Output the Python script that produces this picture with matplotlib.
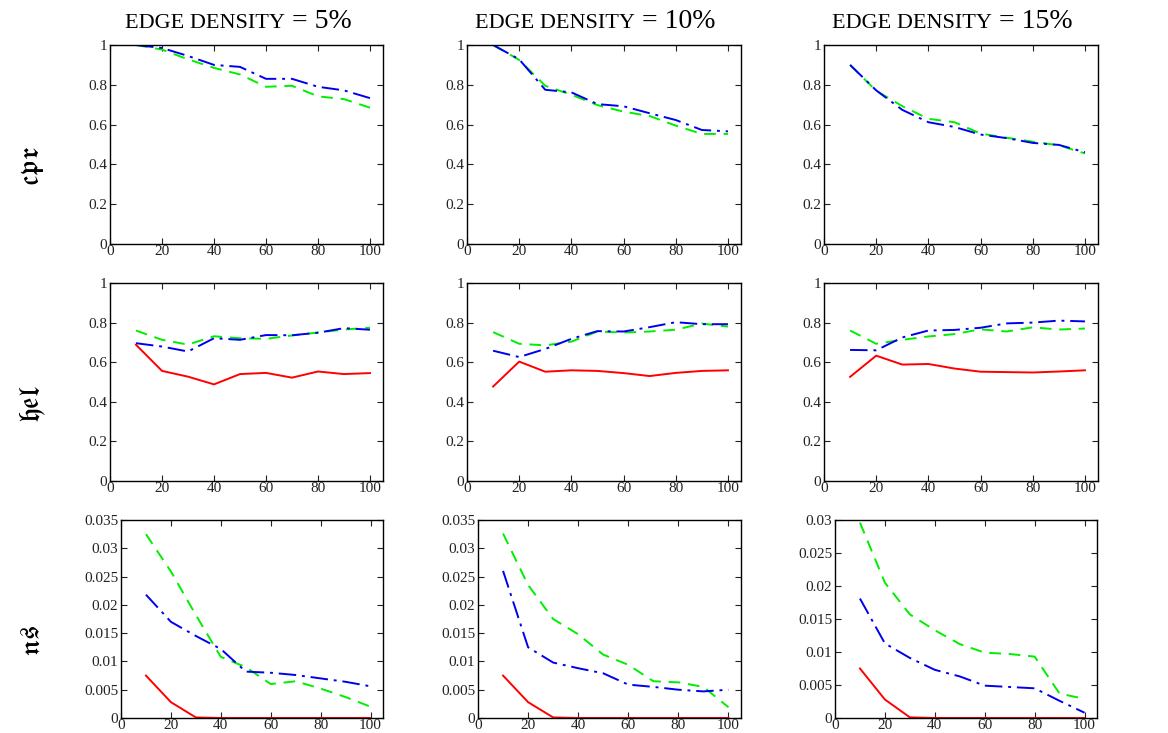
import matplotlib
matplotlib.use("Agg")
import matplotlib.pyplot as plt

plt.rcParams['font.family'] = ['Liberation Serif', 'DejaVu Serif']
plt.rcParams['mathtext.fontset'] = 'stix'

x = [10, 20, 30, 40, 50, 60, 70, 80, 90, 100]
title_words = ["EDGE DENSITY", "EDGE DENSITY", "EDGE DENSITY"]
title_values = [" = 5%", " = 10%", " = 15%"]
row_labels = [r"$\mathfrak{cpr}$", r"$\mathfrak{hel}$", r"$\mathfrak{ns}$"]
x_ticks = [0, 20, 40, 60, 80, 100]

# cpr row (no red series)
cpr_blue_5 = [1.0, 0.985, 0.945, 0.90, 0.89, 0.83, 0.83, 0.79, 0.772, 0.733]
cpr_green_5 = [1.0, 0.977, 0.928, 0.885, 0.852, 0.79, 0.795, 0.742, 0.728, 0.685]
cpr_blue_10 = [1.0, 0.928, 0.775, 0.762, 0.703, 0.692, 0.657, 0.623, 0.573, 0.566]
cpr_green_10 = [1.0, 0.925, 0.795, 0.75, 0.698, 0.665, 0.643, 0.595, 0.553, 0.553]
cpr_blue_15 = [0.90, 0.772, 0.674, 0.612, 0.588, 0.55, 0.532, 0.508, 0.498, 0.461]
cpr_green_15 = [0.90, 0.77, 0.693, 0.629, 0.612, 0.555, 0.534, 0.514, 0.496, 0.455]

# hel row
hel_red_5 = [0.688, 0.556, 0.527, 0.488, 0.54, 0.546, 0.522, 0.553, 0.54, 0.545]
hel_blue_5 = [0.696, 0.679, 0.654, 0.721, 0.713, 0.737, 0.736, 0.749, 0.772, 0.764]
hel_green_5 = [0.76, 0.713, 0.689, 0.731, 0.721, 0.718, 0.735, 0.75, 0.765, 0.774]
hel_red_10 = [0.477, 0.603, 0.552, 0.559, 0.556, 0.545, 0.53, 0.546, 0.556, 0.559]
hel_blue_10 = [0.658, 0.626, 0.667, 0.718, 0.757, 0.755, 0.777, 0.802, 0.792, 0.792]
hel_green_10 = [0.752, 0.693, 0.685, 0.704, 0.755, 0.75, 0.755, 0.764, 0.795, 0.78]
hel_red_15 = [0.526, 0.633, 0.588, 0.591, 0.568, 0.552, 0.55, 0.548, 0.553, 0.559]
hel_blue_15 = [0.662, 0.66, 0.725, 0.76, 0.763, 0.774, 0.796, 0.8, 0.81, 0.806]
hel_green_15 = [0.76, 0.693, 0.713, 0.73, 0.742, 0.766, 0.755, 0.776, 0.765, 0.77]

# ns row
ns_red_5 = [0.0075, 0.0028, 0.0001, 0.0, 0.0, 0.0, 0.0, 0.0, 0.0, 0.0]
ns_blue_5 = [0.0218, 0.0170, 0.0145, 0.0122, 0.0082, 0.0080, 0.0076, 0.0070, 0.0064, 0.0056]
ns_green_5 = [0.0325, 0.0259, 0.0182, 0.0108, 0.0090, 0.0060, 0.0065, 0.0052, 0.0037, 0.0020]
ns_red_10 = [0.0075, 0.0028, 0.0001, 0.0, 0.0, 0.0, 0.0, 0.0, 0.0, 0.0]
ns_blue_10 = [0.0260, 0.0125, 0.0098, 0.0088, 0.0079, 0.0059, 0.0055, 0.0050, 0.0047, 0.0050]
ns_green_10 = [0.0326, 0.0235, 0.0175, 0.0148, 0.0112, 0.0094, 0.0065, 0.0063, 0.0055, 0.0019]
ns_red_15 = [0.0075, 0.0028, 0.0001, 0.0, 0.0, 0.0, 0.0, 0.0, 0.0, 0.0]
ns_blue_15 = [0.0181, 0.0113, 0.0091, 0.0073, 0.0063, 0.0049, 0.0047, 0.0045, 0.0026, 0.0008]
ns_green_15 = [0.0296, 0.0205, 0.0157, 0.0133, 0.0112, 0.0099, 0.0097, 0.0093, 0.0037, 0.0029]

grid = [
    [(None, cpr_blue_5, cpr_green_5), (None, cpr_blue_10, cpr_green_10), (None, cpr_blue_15, cpr_green_15)],
    [(hel_red_5, hel_blue_5, hel_green_5), (hel_red_10, hel_blue_10, hel_green_10), (hel_red_15, hel_blue_15, hel_green_15)],
    [(ns_red_5, ns_blue_5, ns_green_5), (ns_red_10, ns_blue_10, ns_green_10), (ns_red_15, ns_blue_15, ns_green_15)],
]

y_limits = [[(0, 1)] * 3, [(0, 1)] * 3, [(0, 0.035), (0, 0.035), (0, 0.03)]]
y_ticks = [
    [[0, 0.2, 0.4, 0.6, 0.8, 1]] * 3,
    [[0, 0.2, 0.4, 0.6, 0.8, 1]] * 3,
    [[0, 0.005, 0.01, 0.015, 0.02, 0.025, 0.03, 0.035]] * 2 + [[0, 0.005, 0.01, 0.015, 0.02, 0.025, 0.03]],
]

W, H = 1168, 733
fig = plt.figure(figsize=(W / 100, H / 100), dpi=100)

# pixel boxes (left, top, right, bottom)
boxes = [
    [(110, 45, 383, 244), (467, 45, 741, 244), (824, 45, 1098, 244)],
    [(110, 283, 383, 481), (467, 283, 741, 481), (824, 283, 1098, 481)],
    [(121, 520, 383, 718), (478, 520, 741, 718), (835, 520, 1097, 718)],
]
title_centers = [238, 595, 952]

def fmt(v):
    if v == 0:
        return "0"
    return ("%.3f" % v).rstrip("0").rstrip(".")

for r in range(3):
    for c in range(3):
        l, t, rr, b = boxes[r][c]
        ax = fig.add_axes([l / W, 1 - b / H, (rr - l) / W, (b - t) / H])
        red, blue, green = grid[r][c]
        if red is not None:
            ax.plot(x, red, color='#ff0000', lw=1.4, ls='-')
        ax.plot(x, green, color='#00ee00', lw=1.4, ls=(0, (6, 4)))
        ax.plot(x, blue, color='#0000ee', lw=1.4, ls=(0, (9, 3, 1.5, 3)))
        ax.set_xlim(0, 105)
        ax.set_ylim(*y_limits[r][c])
        ax.set_xticks(x_ticks)
        ax.set_yticks(y_ticks[r][c])
        ax.set_yticklabels([fmt(v) for v in y_ticks[r][c]])
        ax.tick_params(direction='in', length=4, width=0.8, top=True, right=True,
                       labelsize=11, colors='#222222')
        ax.tick_params(axis='x', pad=1)
        ax.tick_params(axis='y', pad=2)
        for sp in ax.spines.values():
            sp.set_linewidth(1.0)
        if c == 0:
            fig.text(33 / W, 1 - ((t + b) / 2 + 22) / H, row_labels[r], rotation=90,
                     fontsize=20, ha='center', va='center')

# titles: small-caps style word + larger value, centred as a unit
fig.canvas.draw()
renderer = fig.canvas.get_renderer()
for c in range(3):
    t1 = fig.text(0, 1 - 28 / H, title_words[c], fontsize=16, va='baseline', ha='left')
    t2 = fig.text(0, 1 - 28 / H, title_values[c], fontsize=20, va='baseline', ha='left')
    w1 = t1.get_window_extent(renderer).width
    w2 = t2.get_window_extent(renderer).width
    start = title_centers[c] - (w1 + w2) / 2
    t1.set_x(start / W)
    t2.set_x((start + w1) / W)

fig.savefig("out.png", dpi=100)
